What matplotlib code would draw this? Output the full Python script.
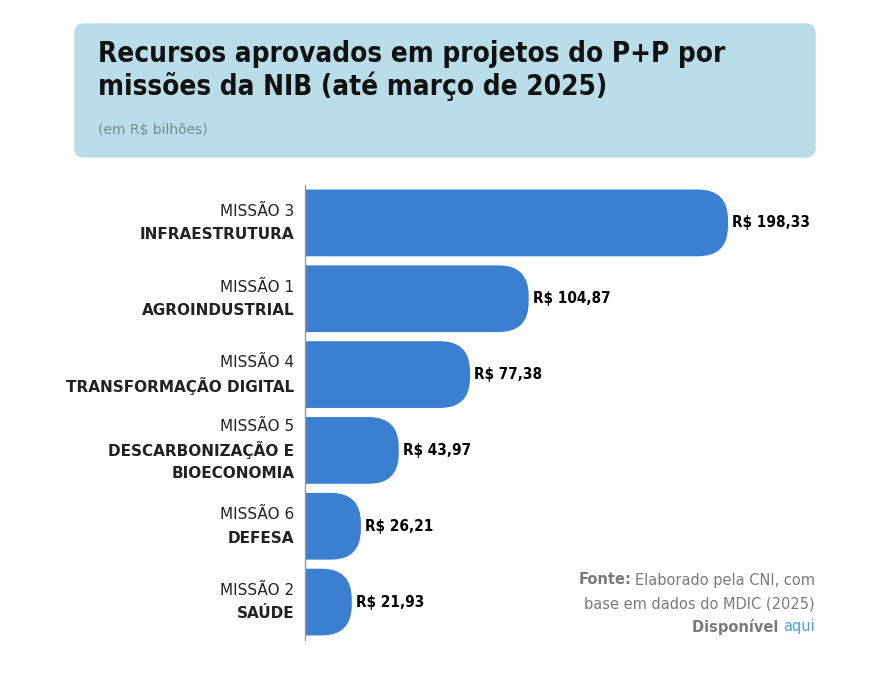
import matplotlib.pyplot as plt
from matplotlib.patches import FancyBboxPatch
import numpy as np

# Data (R$ bilhões)
missionData: dict = {
    'MISSÃO 3\nINFRAESTRUTURA': 198.33,
    'MISSÃO 1\nAGROINDUSTRIAL': 104.87,
    'MISSÃO 4\nTRANSFORMAÇÃO DIGITAL': 77.38,
    'MISSÃO 5\nDESCARBONIZAÇÃO E\nBIOECONOMIA': 43.97,
    'MISSÃO 6\nDEFESA': 26.21,
    'MISSÃO 2\nSAÚDE': 21.93,
}

BAR_COLOR = '#3a7fd0'
BOX_COLOR = '#b9dde8'
FONT = 'DejaVu Sans'


def fmt(value: float) -> str:
    return 'R$ ' + f'{value:.2f}'.replace('.', ',')


def drawHeader(fig) -> None:
    fig.patches.append(FancyBboxPatch((75/886, 1-157/678), 740/886, 133/678,
                                      boxstyle='round,pad=0,rounding_size=0.012',
                                      transform=fig.transFigure, color=BOX_COLOR, zorder=0))
    fig.text(98/886, 1-40/678, 'Recursos aprovados em projetos do P+P por\nmissões da NIB (até março de 2025)',
             fontsize=20, fontweight='bold', fontstretch='condensed', family=FONT,
             va='top', ha='left', color='#111111', linespacing=1.15)
    fig.text(98/886, 1-130/678, '(em R$ bilhões)', fontsize=10, color='#7a8a90',
             va='center', ha='left', family=FONT)


def drawBars(ax, names: list, values: list) -> None:
    y = np.arange(len(values))
    height = 0.88
    radius = 14                       # x data units
    aspect = 0.4 / radius             # y radius ~0.4 category units
    bars = ax.barh(y, values, height=height, color='none')
    for bar, value in zip(bars, values):
        x0, y0 = bar.get_x(), bar.get_y()
        w, h = bar.get_width(), bar.get_height()
        # start left of the axis so the left corners are clipped away
        ax.add_patch(FancyBboxPatch((x0 - radius, y0), w + radius, h,
                                    boxstyle=f'round,pad=0,rounding_size={radius}',
                                    mutation_aspect=aspect, color=BAR_COLOR, lw=0))
        ax.text(w + 2, y0 + h/2, fmt(value), va='center', ha='left', fontsize=11,
                fontweight='bold', family=FONT, fontstretch='condensed')

    for yi, name in zip(y, names):
        lines = name.split('\n')
        n = len(lines)
        step = 0.31
        start = yi - step*(n-1)/2
        for k, line in enumerate(lines):
            ax.text(-5, start + k*step, line, ha='right', va='center', fontsize=11,
                    fontweight='normal' if k == 0 else 'bold', family=FONT,
                    color='#222222')

    ax.set_xlim(0, 255.5)
    ax.set_ylim(len(values) - 0.5, -0.5)
    ax.set_xticks([])
    ax.set_yticks([])
    for side in ['top', 'right', 'bottom']:
        ax.spines[side].set_visible(False)
    ax.spines['left'].set_color('#999999')
    ax.spines['left'].set_linewidth(1)
    ax.spines['left'].set_zorder(5)


def main():
    fig = plt.figure(figsize=(8.86, 6.78), dpi=100)
    drawHeader(fig)
    ax = fig.add_axes([305/886, 1-640/678, 545/886, 455/678])
    drawBars(ax, list(missionData.keys()), list(missionData.values()))

    fig.text(631/886, 1-580/678, 'Fonte:', fontsize=10.5, fontweight='bold',
             color='#7a7a7a', ha='right', va='center', family=FONT)
    fig.text(815/886, 1-580/678, 'Elaborado pela CNI, com', fontsize=10.5,
             color='#7a7a7a', ha='right', va='center', family=FONT)
    fig.text(815/886, 1-604/678, 'base em dados do MDIC (2025)', fontsize=10.5,
             color='#7a7a7a', ha='right', va='center', family=FONT)
    fig.text(783/886, 1-627/678, 'Disponível ', fontsize=10.5, fontweight='bold',
             color='#7a7a7a', ha='right', va='center', family=FONT)
    fig.text(783/886, 1-627/678, 'aqui', fontsize=10.5, color='#4a9fd8',
             ha='left', va='center', family=FONT)

    fig.savefig('out.png', dpi=100)


if __name__ == '__main__':
    main()
